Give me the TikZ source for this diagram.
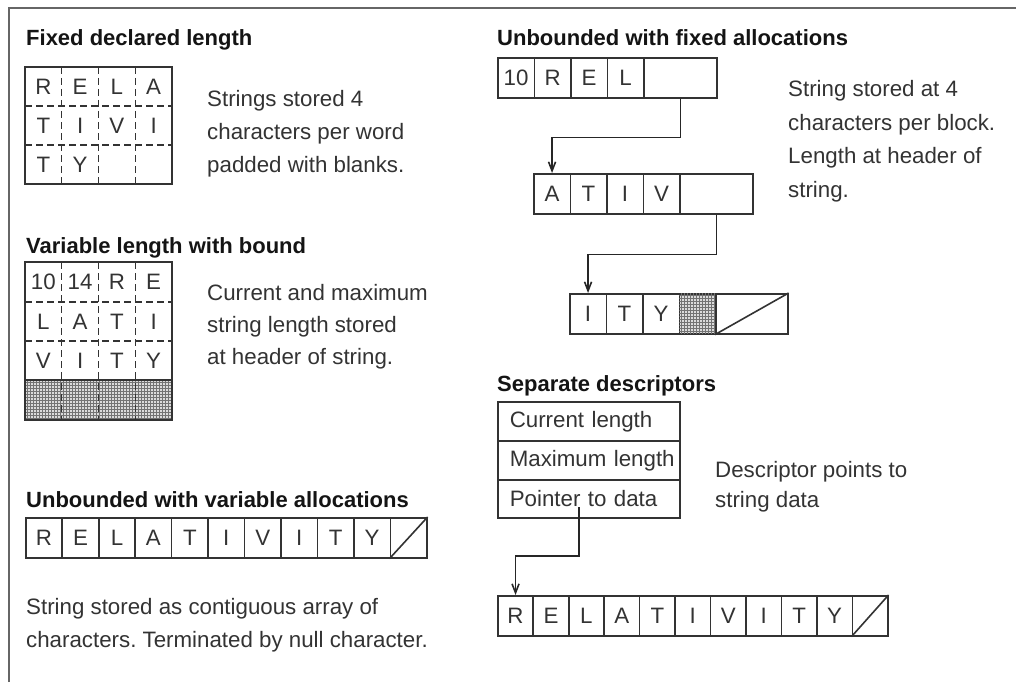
\documentclass[tikz,border=0pt]{standalone}
\usepackage{fontspec}
\setmainfont{Liberation Sans}
\usetikzlibrary{arrows.meta,patterns}
\frenchspacing
\begin{document}
\begin{tikzpicture}[x=1pt,y=-1pt,
  every node/.style={inner sep=0pt, font=\fontsize{22.3}{33}\selectfont, text=black!80},
  head/.style={anchor=base west, font=\fontsize{22}{26}\selectfont\bfseries, text=black!92},
  body/.style={anchor=base west, align=left},
  frameline/.style={draw=black!60, line width=2.5pt},
  boxline/.style={draw=black!80, line width=1.6pt},
  dashline/.style={draw=black!80, line width=1.4pt, dash pattern=on 7pt off 4pt},
  cell/.style={boxline, minimum width=36.5pt, minimum height=40pt, anchor=north west},
  scell/.style={cell, minimum width=35.45pt},
  pcell/.style={cell, minimum width=73pt},
  dcell/.style={boxline, minimum width=182pt, minimum height=39pt, anchor=north west, text width=174pt, align=left},
  shade/.style={fill=black!14, postaction={pattern=grid, pattern color=black!55}},
  ptr/.style={draw=black!85, line width=1.6pt, -{Straight Barb[length=9pt,width=7pt]}},
  letter/.style={anchor=center}
]
\useasboundingbox (0,0) rectangle (1016,682);
\fill[white] (0,0) rectangle (1016,682);
% frame
\draw[frameline] (9,682) -- (9,8) -- (1016,8);

% ---------- Fixed declared length
\node[head] (h1) at (26,46) {Fixed declared length};
\draw[boxline] (25,67) rectangle (172,184);
\foreach \x in {61.75,98.5,135.25} \draw[dashline] (\x,67) -- (\x,184);
\foreach \y in {106,145} \draw[dashline] (25,\y) -- (172,\y);
\foreach \t [count=\i from 0] in {R,E,L,A} \node[letter] (fa\i) at (43.4+36.75*\i,87) {\t};
\foreach \t [count=\i from 0] in {T,I,V,I} \node[letter] (fb\i) at (43.4+36.75*\i,126) {\t};
\foreach \t [count=\i from 0] in {T,Y} \node[letter] (fc\i) at (43.4+36.75*\i,165) {\t};
\node[body] (t1) at (207,172) {Strings stored 4\\characters per word\\padded with blanks.};

% ---------- Variable length with bound
\node[head] (h2) at (26,253) {Variable length with bound};
\draw[shade] (25,380) rectangle (172,420);
\draw[boxline] (25,262) rectangle (172,420);
\draw[boxline] (25,380) -- (172,380);
\foreach \x in {61.75,98.5,135.25} \draw[dashline] (\x,262) -- (\x,420);
\foreach \y in {302,341} \draw[dashline] (25,\y) -- (172,\y);
\foreach \t [count=\i from 0] in {10,14,R,E} \node[letter] (va\i) at (43.4+36.75*\i,282) {\t};
\foreach \t [count=\i from 0] in {L,A,T,I} \node[letter] (vb\i) at (43.4+36.75*\i,321.5) {\t};
\foreach \t [count=\i from 0] in {V,I,T,Y} \node[letter] (vc\i) at (43.4+36.75*\i,360.5) {\t};
\node[body, font=\fontsize{22.3}{32}\selectfont] (t2) at (207,364) {Current and maximum\\string length stored\\at header of string.};

% ---------- Unbounded with variable allocations
\node[head] (h3) at (26,507) {Unbounded with variable allocations};
\foreach \t [count=\i from 0] in {R,E,L,A,T,I,V,I,T,Y} \node[cell] (u\i) at (25+36.45*\i,517) {\t};
\node[cell] (unull) at (25+36.45*10,517) {};
\draw[boxline] (unull.south west) -- (unull.north east);
\node[body] (t3) at (26,647) {String stored as contiguous array of\\characters. Terminated by null character.};

% ---------- Unbounded with fixed allocations
\node[head] (h4) at (497,46) {Unbounded with fixed allocations};
\foreach \t [count=\i from 0] in {10,R,E,L} \node[cell] (fa\i) at (497+36.5*\i,57) {\t};
\node[pcell] (fap) at (643,57) {};
\foreach \t [count=\i from 0] in {A,T,I,V} \node[cell] (fb\i) at (533+36.5*\i,173) {\t};
\node[pcell] (fbp) at (679,173) {};
\foreach \t [count=\i from 0] in {I,T,Y} \node[cell] (fc\i) at (569+36.5*\i,293) {\t};
\node[cell, shade] (fcs) at (678.5,293) {};
\node[pcell, minimum width=72pt] (fcp) at (715,293) {};
\draw[boxline] (fcp.south west) -- (fcp.north east);
\draw[ptr] (fap.south) -- ++(0,39) -| (fb0.north);
\draw[ptr] (fbp.south) -- ++(0,40) -| (fc0.north);
\node[body, font=\fontsize{22.3}{33.4}\selectfont] (t4) at (788,197) {String stored at 4\\characters per block.\\Length at header of\\string.};

% ---------- Separate descriptors
\node[head] (h5) at (497,391) {Separate descriptors};
\node[dcell] (d1) at (497,401) {\hspace*{8pt}Current length};
\node[dcell] (d2) at (497,440) {\hspace*{8pt}Maximum length};
\node[dcell, minimum height=38pt] (d3) at (497,479) {\hspace*{8pt}Pointer to data};
\coordinate (dstart) at (579,507);
\foreach \t [count=\i from 0] in {R,E,L,A,T,I,V,I,T,Y} \node[scell] (s\i) at (497+35.45*\i,595) {\t};
\node[scell] (snull) at (497+35.45*10,595) {};
\draw[boxline] (snull.south west) -- (snull.north east);
\draw[ptr] (dstart) -- ++(0,49) -| (s0.north);
\node[body, font=\fontsize{22.3}{30}\selectfont] (t5) at (715,507) {Descriptor points to\\string data};
\end{tikzpicture}
\end{document}
